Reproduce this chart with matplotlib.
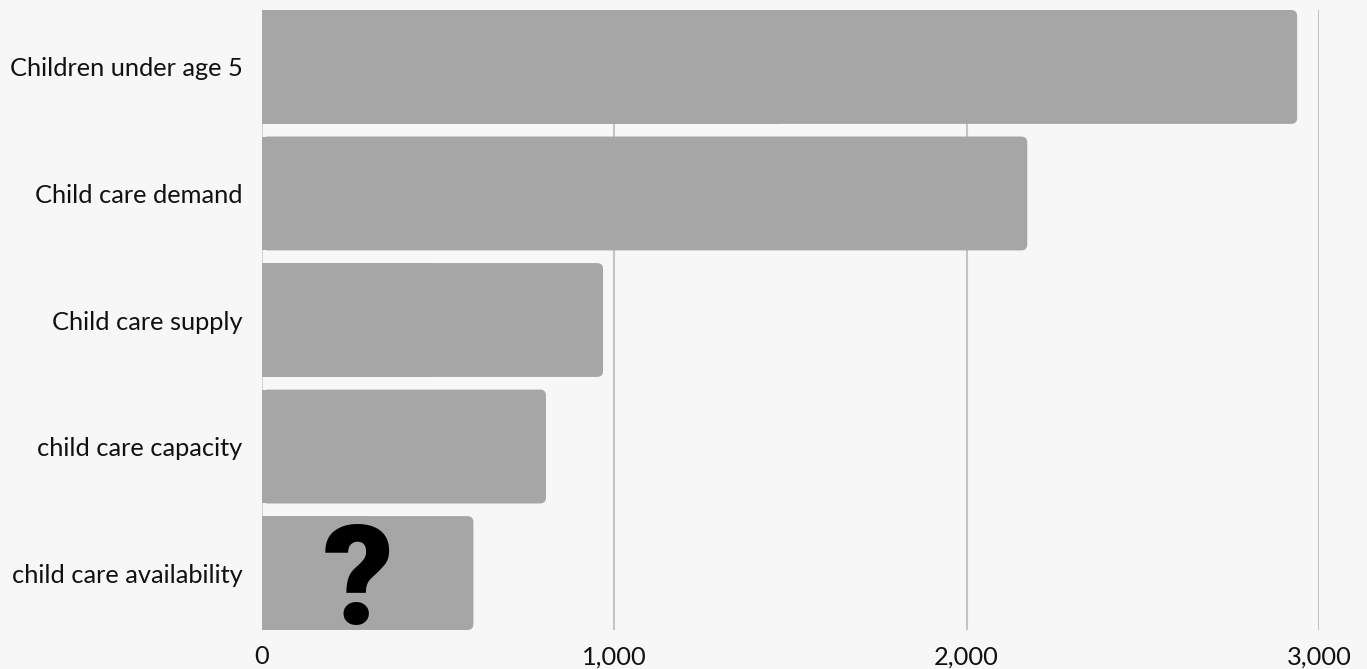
import matplotlib
matplotlib.use("Agg")
from matplotlib import pyplot as plt
from matplotlib.patches import FancyBboxPatch, Rectangle

categories = ['Children under age 5', 'Child care demand', 'Child care supply',
              'child care capacity', 'child care availability']
values = [2938, 2172, 968, 806, 600]
xticks = [0, 1000, 2000, 3000]
xtick_labels = ['0', '1,000', '2,000', '3,000']

bg = '#f7f7f7'
bar_color = '#a6a6a6'
plt.rcParams['font.family'] = ['Lato', 'DejaVu Sans']

fig = plt.figure(figsize=(13.67, 6.69), dpi=100, facecolor=bg)
ax = fig.add_axes([262 / 1367, 1 - 630 / 669, (1319 - 262) / 1367, 620 / 669])
ax.set_facecolor(bg)

h = 0.9
ax.set_xlim(0, 3000)
ax.set_ylim(len(categories) - 1 + h / 2, -h / 2)

# px -> data units, for rounding only the right corners
w_px = ax.get_position().width * fig.get_figwidth() * fig.dpi
h_px = ax.get_position().height * fig.get_figheight() * fig.dpi
x_per_px = 3000 / w_px
y_per_px = (len(categories) - 1 + h) / h_px
r = 6 * x_per_px

for i, v in enumerate(values):
    box = FancyBboxPatch((0, i - h / 2), v, h,
                         boxstyle='round,pad=0,rounding_size=%f' % r,
                         mutation_aspect=y_per_px / x_per_px,
                         fc=bar_color, ec='none', zorder=3)
    ax.add_patch(box)
    ax.add_patch(Rectangle((0, i - h / 2), v / 2, h, fc=bar_color, ec='none', zorder=3))

for x in xticks[1:]:
    ax.axvline(x, color='#c4c4c4', lw=1.5, zorder=1)
ax.axvline(0, color='#d4d4d4', lw=1.5, zorder=1)

ax.set_xticks(xticks)
ax.set_xticklabels(xtick_labels)
ax.set_yticks(range(len(categories)))
ax.set_yticklabels(categories)
ax.tick_params(axis='x', length=0, pad=11, labelsize=18.3, colors='#111111')
ax.tick_params(axis='y', length=0, pad=14, labelsize=18.3, colors='#111111')
for s in ax.spines.values():
    s.set_visible(False)

ax.text(272, 4.1, '?', fontsize=100, fontweight='heavy', family=['Roboto', 'DejaVu Sans'],
        ha='center', va='center', color='black', zorder=4)

fig.savefig('out.png', dpi=100, facecolor=bg)
